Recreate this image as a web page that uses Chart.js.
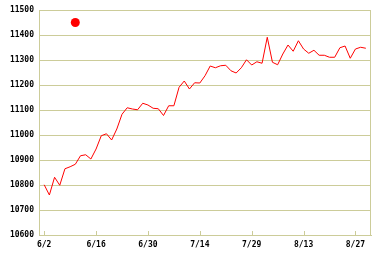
<!DOCTYPE html>
<html>
<head>
<meta charset="utf-8">
<script src="https://cdn.jsdelivr.net/npm/chart.js@4.4.0/dist/chart.umd.min.js"></script>
<style>
  body { margin: 0; background: #fff; }
  canvas { display: block; }
</style>
</head>
<body>
<canvas id="myChart" width="382" height="258"></canvas>
<script>
var dates = [
    '6/2','6/3','6/4','6/5','6/6','6/9','6/10','6/11','6/12','6/13',
    '6/16','6/17','6/18','6/19','6/20','6/23','6/24','6/25','6/26','6/27',
    '6/30','7/1','7/2','7/3','7/4','7/7','7/8','7/9','7/10','7/11',
    '7/14','7/15','7/16','7/17','7/18','7/22','7/23','7/24','7/25','7/28',
    '7/29','7/30','7/31','8/1','8/4','8/5','8/6','8/7','8/8','8/12',
    '8/13','8/14','8/15','8/18','8/19','8/20','8/21','8/22','8/25','8/26',
    '8/27','8/28','8/29'
]
var closes = [
    10801, 10760, 10831, 10799, 10865, 10873, 10883, 10917, 10921, 10904,
    10944, 10997, 11005, 10980, 11024, 11083, 11109, 11104, 11101, 11127,
    11120, 11107, 11105, 11078, 11117, 11117, 11191, 11216, 11184, 11209,
    11208, 11237, 11276, 11269, 11277, 11279, 11257, 11248, 11269, 11301,
    11280, 11293, 11287, 11391, 11291, 11281, 11324, 11360, 11335, 11377,
    11344, 11327, 11339, 11319, 11319, 11311, 11311, 11349, 11356, 11307,
    11344, 11351, 11347
]
var markerIndex = [6]
var markerValue = [11450]
var tickIndex = [0, 10, 20, 30, 40, 50, 60]
var yTicks = [10600, 10700, 10800, 10900, 11000, 11100, 11200, 11300, 11400, 11500]

var gridColor = '#cccc99'
var tickFont = { family: '"DejaVu Sans Mono", monospace', size: 8, weight: 'bold' }

// frame round the plot and little ticks pointing up from the x axis
var framePlugin = {
    id: 'frame',
    afterDraw: function(chart){
        var a = chart.chartArea
        var ctx = chart.ctx
        var xs = chart.scales.x
        ctx.save()
        ctx.strokeStyle = gridColor
        ctx.lineWidth = 1
        ctx.strokeRect(a.left + 0.5, a.top + 0.5, a.right - a.left - 1, a.bottom - a.top)
        tickIndex.forEach(function(i){
            var px = Math.round(xs.getPixelForValue(i)) + 0.5
            ctx.beginPath()
            ctx.moveTo(px, a.bottom)
            ctx.lineTo(px, a.bottom - 4)
            ctx.stroke()
        })
        ctx.restore()
    }
}

var ctx = document.getElementById('myChart').getContext('2d');
var myChart = new Chart(ctx, {
    type: 'line',
    data: {
        datasets: [{
            data: closes.map(function(v, i){ return { x: i, y: v } }),
            borderColor: '#ff0000',
            borderWidth: 1,
            pointRadius: 0,
            tension: 0,
            fill: false
        }, {
            data: markerIndex.map(function(v, i){ return { x: v, y: markerValue[i] } }),
            showLine: false,
            pointRadius: 4.5,
            pointBackgroundColor: '#ff0000',
            pointBorderColor: '#ff0000',
            pointBorderWidth: 0
        }]
    },
    options: {
        responsive: false,
        animation: false,
        layout: { padding: { top: 10, right: 11, left: 0, bottom: 0 } },
        plugins: {
            legend: { display: false },
            tooltip: { enabled: false }
        },
        scales: {
            x: {
                type: 'linear',
                min: -1,
                max: dates.length,
                afterBuildTicks: function(scale){
                    scale.ticks = tickIndex.map(function(v){ return { value: v } })
                },
                afterFit: function(scale){ scale.height = 23 },
                grid: { display: false, drawTicks: false },
                border: { display: true, color: gridColor, width: 1 },
                ticks: {
                    autoSkip: false,
                    maxRotation: 0,
                    padding: 5,
                    color: '#000',
                    font: tickFont,
                    callback: function(v){ return dates[v] }
                }
            },
            y: {
                min: 10600,
                max: 11500,
                afterBuildTicks: function(scale){
                    scale.ticks = yTicks.map(function(v){ return { value: v } })
                },
                afterFit: function(scale){ scale.width = 39 },
                grid: { color: gridColor, lineWidth: 1, drawTicks: false },
                border: { display: true, color: gridColor, width: 1 },
                ticks: {
                    padding: 5,
                    color: '#000',
                    font: tickFont,
                    callback: function(v){ return String(v) }
                }
            }
        }
    },
    plugins: [framePlugin]
});
</script>
</body>
</html>
